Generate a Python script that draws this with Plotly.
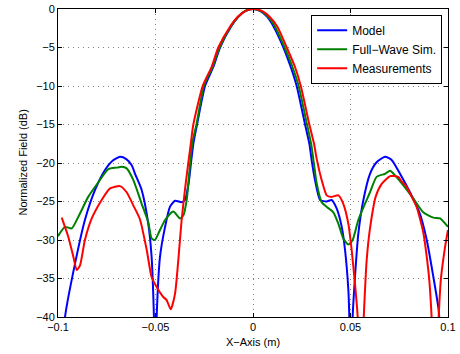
import plotly.graph_objects as go

# Model
model_x = [-0.0985, -0.0964, -0.0913, -0.0862, -0.0810, -0.0759, -0.0720, -0.0682, -0.0650, -0.0622,
           -0.0605, -0.0571, -0.0537, -0.0520, -0.0508, -0.0501, -0.0494, -0.0477, -0.0451, -0.0426,
           -0.0400, -0.0366, -0.0349, -0.0330, -0.0318, -0.0306, -0.0287, -0.0246, -0.0203, -0.0169,
           -0.0113, -0.0075, -0.0040, 0.0, 0.0038, 0.0072, 0.0106, 0.0156, 0.0193, 0.0224,
           0.0267, 0.0289, 0.0303, 0.0318, 0.0344, 0.0378, 0.0403, 0.0429, 0.0455, 0.0472,
           0.0489, 0.0494, 0.0502, 0.0511, 0.0523, 0.0540, 0.0566, 0.0600, 0.0634, 0.0677,
           0.0711, 0.0754, 0.0805, 0.0856, 0.0891, 0.0925, 0.0950, 0.0955, 0.0970]
model_y = [-50, -40, -33.1, -27.4, -23.5, -20.9, -19.7, -19.2, -19.5, -20.3,
           -21.4, -23.5, -27.9, -32.2, -40, -50, -40, -32.2, -28.3, -25.7,
           -24.9, -25.1, -24.8, -22.6, -20.0, -17.5, -15, -10, -7.5, -5,
           -2.3, -1.0, -0.28, 0, -0.28, -1.0, -2.3, -5, -7.5, -10,
           -15, -17.5, -20, -22.2, -24.8, -25.0, -24.8, -25.9, -28.3, -31.3,
           -36.5, -40, -50, -40, -34.8, -29.2, -24.8, -21.4, -19.9, -19.2,
           -19.6, -21.4, -23.8, -26.6, -30.0, -34.8, -38.7, -40, -50]

# Full-wave simulation
fw_x = [-0.1000, -0.0964, -0.0930, -0.0896, -0.0845, -0.0793, -0.0742, -0.0699, -0.0673, -0.0648,
        -0.0614, -0.0571, -0.0537, -0.0520, -0.0503, -0.0477, -0.0451, -0.0409, -0.0374, -0.0357,
        -0.0340, -0.0324, -0.0312, -0.0290, -0.0252, -0.0207, -0.0172, -0.0115, -0.0076, -0.0040,
        0.0, 0.0040, 0.0078, 0.0113, 0.0162, 0.0202, 0.0234, 0.0277, 0.0298, 0.0312,
        0.0327, 0.0352, 0.0378, 0.0412, 0.0438, 0.0463, 0.0489, 0.0511, 0.0540, 0.0574,
        0.0600, 0.0634, 0.0677, 0.0703, 0.0728, 0.0771, 0.0822, 0.0873, 0.0925, 0.0959, 0.1000]
fw_y = [-29.5, -28.3, -28.5, -27.0, -24.4, -22.5, -20.8, -20.6, -20.5, -20.7,
        -22.2, -25.3, -27.7, -29.8, -30.0, -28.7, -27.4, -26.3, -27.2, -26.8,
        -24.8, -20.5, -17.5, -15, -10, -7.5, -5, -2.3, -1.0, -0.25,
        0, -0.28, -1.0, -2.3, -5, -7.5, -10, -15, -17.5, -20,
        -22.7, -25.1, -25.7, -26.4, -27.9, -29.8, -30.6, -30.0, -27.4, -25.3,
        -23.8, -21.8, -21.4, -21.0, -21.6, -22.9, -24.6, -26.4, -27.1, -27.2, -28.3]

# Measurements
meas_x = [-0.0981, -0.0947, -0.0921, -0.0904, -0.0887, -0.0862, -0.0827, -0.0776, -0.0733, -0.0682,
          -0.0648, -0.0614, -0.0580, -0.0545, -0.0520, -0.0494, -0.0460, -0.0443, -0.0422, -0.0400,
          -0.0383, -0.0366, -0.0349, -0.0332, -0.0319, -0.0306, -0.0258, -0.0212, -0.0178, -0.0118,
          -0.0078, -0.0030, 0.0010, 0.0050, 0.0085, 0.0125, 0.0173, 0.0215, 0.0245, 0.0289,
          0.0313, 0.0327, 0.0352, 0.0378, 0.0403, 0.0438, 0.0463, 0.0489, 0.0506, 0.0523,
          0.0537, 0.0553, 0.0568, 0.0583, 0.0600, 0.0630, 0.0660, 0.0703, 0.0720, 0.0745,
          0.0762, 0.0788, 0.0814, 0.0839, 0.0856, 0.0873, 0.0891, 0.0905, 0.0916, 0.0933,
          0.0952, 0.0963, 0.0985, 0.1000]
meas_y = [-27.1, -29.6, -32.2, -33.9, -33.3, -30.0, -27.2, -24.8, -23.3, -23.0,
          -23.8, -25.5, -27.3, -31.3, -34.8, -36.1, -37.4, -37.8, -39.0, -37.0,
          -32.6, -27.4, -23.5, -20, -17.5, -15, -10, -7.5, -5, -2.3,
          -1.0, -0.15, 0, -0.3, -1.0, -2.3, -5, -7.5, -10, -15,
          -17.5, -19.5, -22.2, -24.2, -24.4, -24.2, -25.3, -27.9, -31.3, -35.7,
          -40, -50, -40, -32.6, -28.5, -24.3, -22.7, -21.7, -21.7, -21.8,
          -22.4, -23.1, -24.4, -25.7, -27.2, -29.0, -32.2, -35.5, -40, -50,
          -40, -35.2, -30.9, -28.7]

x_ticks = [-0.1, -0.05, 0, 0.05, 0.1]
x_tick_labels = ["\u22120.1", "\u22120.05", "0", "0.05", "0.1"]
y_ticks = [0, -5, -10, -15, -20, -25, -30, -35, -40]

font_family = "Liberation Sans, Arial, sans-serif"

fig = go.Figure()
fig.add_trace(go.Scatter(x=model_x, y=model_y, mode="lines", name="Model",
                         line=dict(color="#0000FF", width=2, shape="spline", smoothing=0.6)))
fig.add_trace(go.Scatter(x=fw_x, y=fw_y, mode="lines", name="Full\u2212Wave Sim.",
                         line=dict(color="#008000", width=2, shape="spline", smoothing=0.6)))
fig.add_trace(go.Scatter(x=meas_x, y=meas_y, mode="lines", name="Measurements",
                         line=dict(color="#FF0000", width=2, shape="spline", smoothing=0.6)))

axis_common = dict(
    showline=True, linecolor="black", linewidth=1, mirror="ticks",
    ticks="inside", ticklen=4, tickcolor="black",
    showgrid=True, gridcolor="rgba(0,0,0,0.5)", griddash="1px,4px", gridwidth=1,
    zeroline=False, automargin=False,
    tickfont=dict(family=font_family, size=11, color="black"),
)

fig.update_layout(
    width=460, height=354,
    margin=dict(l=57.5, r=11.7, t=9, b=37.3, autoexpand=False),
    paper_bgcolor="white", plot_bgcolor="white",
    font=dict(family=font_family, size=11, color="black"),
    xaxis=dict(range=[-0.1, 0.1], tickvals=x_ticks, ticktext=x_tick_labels, **axis_common),
    yaxis=dict(range=[-40, 0], tickvals=y_ticks, **axis_common),
    legend=dict(x=0.985, y=0.9815, xanchor="right", yanchor="top",
                bgcolor="white", bordercolor="black", borderwidth=1,
                font=dict(family=font_family, size=12), tracegroupgap=0,
                itemwidth=30),
    showlegend=True,
    annotations=[
        dict(text="X\u2212Axis (m)", xref="paper", yref="paper", x=0.5, y=-0.082,
             xanchor="center", yanchor="middle", showarrow=False,
             font=dict(family=font_family, size=11)),
        dict(text="Normalized Field (dB)", xref="paper", yref="paper", x=-0.091, y=0.5,
             xanchor="center", yanchor="middle", textangle=-90, showarrow=False,
             font=dict(family=font_family, size=11)),
    ],
)

fig.write_html("out.html", config={"displayModeBar": False},
               post_script="document.body.style.margin='0';document.body.style.overflow='hidden';")
